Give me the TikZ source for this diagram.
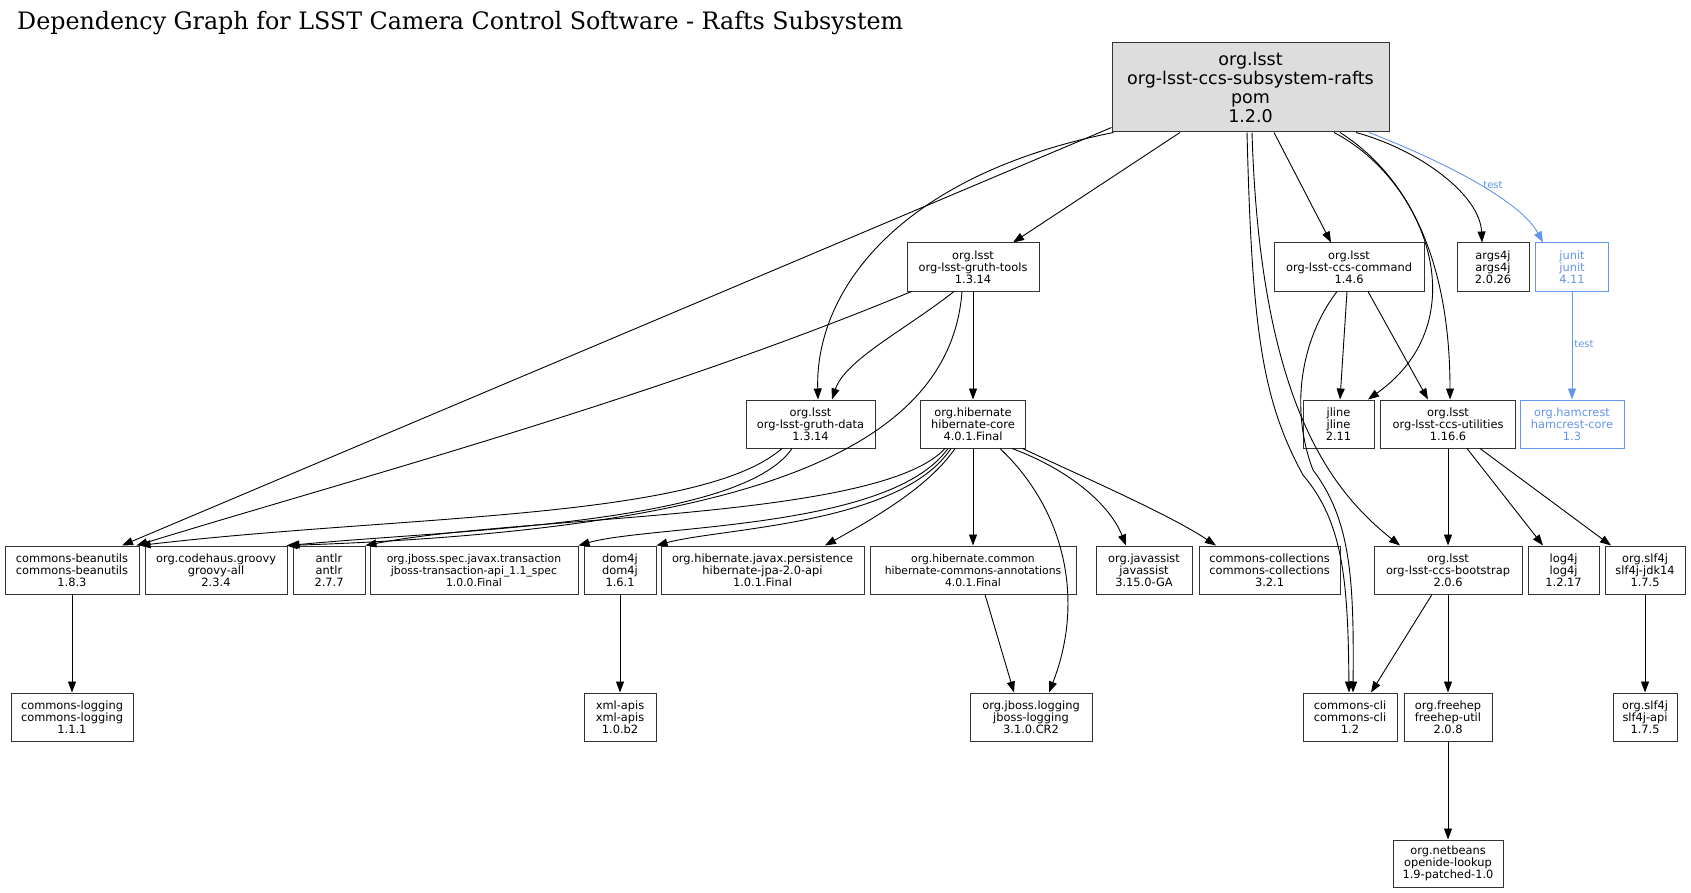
\documentclass[tikz,border=0pt]{standalone}
\usepackage{fontspec}
\setmainfont{DejaVu Sans}
\newfontfamily\titlefont{DejaVu Serif}
\usetikzlibrary{arrows.meta,calc}
\definecolor{jblue}{HTML}{6495ED}
\definecolor{rootgray}{HTML}{DDDDDD}
\definecolor{boxline}{HTML}{333333}
\begin{document}
\begin{tikzpicture}[x=1pt,y=-1pt,
  box/.style={draw=boxline, line width=1pt, inner sep=0pt, align=center,
    font=\fontsize{11.4}{12}\selectfont, minimum height=48pt},
  smallbox/.style={box, font=\fontsize{10.8}{12}\selectfont},
  rootbox/.style={box, fill=rootgray, font=\fontsize{17.5}{19.3}\selectfont, minimum height=89pt},
  testbox/.style={box, draw=jblue, text=jblue},
  dep/.style={-{Triangle[length=11pt,width=8pt]}, line width=0.9pt},
  testdep/.style={dep, draw=jblue},
  testlabel/.style={text=jblue, font=\fontsize{10}{12}\selectfont, inner sep=0pt}]
\useasboundingbox (0,0) rectangle (1691,893);
\fill[white] (0,0) rectangle (1691,893);

\node[anchor=base west, inner sep=0pt] (title) at (17,30)
  {\resizebox{886pt}{\height}{\titlefont\fontsize{24}{28}\selectfont Dependency Graph for LSST Camera Control Software - Rafts Subsystem}};

% root
\node[rootbox, minimum width=277pt] (R) at (1250.5,87.5) {org.lsst\\org-lsst-ccs-subsystem-rafts\\pom\\1.2.0};

% row A
\node[box, minimum width=132pt] (GT) at (973,267) {org.lsst\\org-lsst-gruth-tools\\1.3.14};
\node[box, minimum width=150pt] (CMD) at (1349,267) {org.lsst\\org-lsst-ccs-command\\1.4.6};
\node[box, minimum width=72pt] (ARGS) at (1493,267) {args4j\\args4j\\2.0.26};
\node[testbox, minimum width=73pt] (JUNIT) at (1572,267) {junit\\junit\\4.11};

% row B
\node[box, minimum width=129pt] (GD) at (810.5,424) {org.lsst\\org-lsst-gruth-data\\1.3.14};
\node[box, minimum width=105pt] (HC) at (973,424) {org.hibernate\\hibernate-core\\4.0.1.Final};
\node[box, minimum width=71pt] (JLINE) at (1338.5,424) {jline\\jline\\2.11};
\node[box, minimum width=135pt] (UTIL) at (1448,424) {org.lsst\\org-lsst-ccs-utilities\\1.16.6};
\node[testbox, minimum width=104pt] (HAM) at (1572,424) {org.hamcrest\\hamcrest-core\\1.3};

% row C
\node[box, minimum width=134pt] (BEAN) at (72,570) {commons-beanutils\\commons-beanutils\\1.8.3};
\node[box, minimum width=142pt] (GROOVY) at (216,570) {org.codehaus.groovy\\groovy-all\\2.3.4};
\node[box, minimum width=72pt] (ANTLR) at (329,570) {antlr\\antlr\\2.7.7};
\node[smallbox, minimum width=208pt] (JTA) at (474,570) {org.jboss.spec.javax.transaction\\jboss-transaction-api\_1.1\_spec\\1.0.0.Final};
\node[box, minimum width=72pt] (DOM) at (620,570) {dom4j\\dom4j\\1.6.1};
\node[box, minimum width=203pt] (JPA) at (762.5,570) {org.hibernate.javax.persistence\\hibernate-jpa-2.0-api\\1.0.1.Final};
\node[smallbox, minimum width=206pt] (HCA) at (973,570) {org.hibernate.common\\hibernate-commons-annotations\\4.0.1.Final};
\node[box, minimum width=96pt] (JAV) at (1144,570) {org.javassist\\javassist\\3.15.0-GA};
\node[box, minimum width=141pt] (COLL) at (1269.5,570) {commons-collections\\commons-collections\\3.2.1};
\node[box, minimum width=148pt] (BOOT) at (1448,570) {org.lsst\\org-lsst-ccs-bootstrap\\2.0.6};
\node[box, minimum width=71pt] (LOG) at (1563.5,570) {log4j\\log4j\\1.2.17};
\node[box, minimum width=80pt] (JDK) at (1645,570) {org.slf4j\\slf4j-jdk14\\1.7.5};

% row D
\node[box, minimum width=122pt] (CLOG) at (72,717) {commons-logging\\commons-logging\\1.1.1};
\node[box, minimum width=72pt] (XML) at (620,717) {xml-apis\\xml-apis\\1.0.b2};
\node[box, minimum width=122pt] (JBL) at (1031,717) {org.jboss.logging\\jboss-logging\\3.1.0.CR2};
\node[box, minimum width=94pt] (CLI) at (1350,717) {commons-cli\\commons-cli\\1.2};
\node[box, minimum width=88pt] (FREE) at (1448,717) {org.freehep\\freehep-util\\2.0.8};
\node[box, minimum width=64pt] (SLF) at (1645,717) {org.slf4j\\slf4j-api\\1.7.5};

% row E
\node[box, minimum width=110pt, minimum height=47pt] (NB) at (1448,863.5) {org.netbeans\\openide-lookup\\1.9-patched-1.0};

% ---- edges from root
\draw[dep] ($(R.south west)+(0,-5)$) -- ($(BEAN.north)+(50,0)$);
\draw[dep] ($(R.south west)+(2,0)$) .. controls (900,175) and (815,290) .. ($(GD.north)+(7.5,0)$);
\draw[dep] ($(R.south)+(-70.5,0)$) -- ($(GT.north)+(40,0)$);
\draw[dep] ($(R.south)+(23.5,0)$) -- ($(CMD.north)+(-18,0)$);
\draw[dep] ($(R.south)+(-3.5,0)$) .. controls (1252,330) and (1262,400) .. (1303,475)
   .. controls (1343,522) and (1348,580) .. ($(CLI.north)+(-1,0)$);
\draw[dep] ($(R.south)+(1.5,0)$) .. controls (1260,400) and (1330,490) .. ($(BOOT.north)+(-48,0)$);
\draw[dep] ($(R.south)+(83.5,0)$) .. controls (1425,180) and (1480,320) .. ($(JLINE.north)+(29.5,0)$);
\draw[dep] ($(R.south)+(89.5,0)$) .. controls (1430,190) and (1450,300) .. ($(UTIL.north)+(2,0)$);
\draw[dep] ($(R.south)+(105.5,0)$) .. controls (1420,150) and (1480,195) .. ($(ARGS.north)+(-11,0)$);
\draw[testdep] ($(R.south)+(118.5,0)$) .. controls (1440,160) and (1520,200) .. ($(JUNIT.north)+(-29,0)$);
\node[testlabel] (t1) at (1493,185) {test};

% ---- junit
\draw[testdep] (JUNIT.south) -- (HAM.north);
\node[testlabel] (t2) at (1584,344) {test};

% ---- gruth-tools
\draw[dep] ($(GT.south west)+(5,0)$) .. controls (650,400) and (350,480) .. ($(BEAN.north east)+(-3,0)$);
\draw[dep] ($(GT.south)+(-19,0)$) .. controls (905,330) and (845,360) .. ($(GD.north)+(21.5,0)$);
\draw[dep] ($(GT.south)+(-11,0)$) .. controls (950,450) and (750,530) .. ($(GROOVY.north east)+(-1,0)$);
\draw[dep] (GT.south) -- (HC.north);

% ---- gruth-data
\draw[dep] ($(GD.south)+(-28.5,0)$) .. controls (700,520) and (400,515) .. (BEAN.north east);
\draw[dep] ($(GD.south)+(-18.5,0)$) .. controls (740,525) and (450,530) .. ($(GROOVY.north east)+(1,0)$);

% ---- hibernate-core
\draw[dep] ($(HC.south)+(-28,0)$) .. controls (880,520) and (520,515) .. (ANTLR.north east);
\draw[dep] ($(HC.south)+(-25,0)$) .. controls (890,530) and (650,525) .. (JTA.north east);
\draw[dep] ($(HC.south)+(-22,0)$) .. controls (900,525) and (720,528) .. (DOM.north east);
\draw[dep] ($(HC.south)+(-18,0)$) .. controls (930,485) and (880,515) .. ($(JPA.north)+(62.5,0)$);
\draw[dep] (HC.south) -- (HCA.north);
\draw[dep] ($(HC.south)+(27,0)$) .. controls (1065,510) and (1085,600) .. ($(JBL.north)+(18,0)$);
\draw[dep] ($(HC.south)+(39,0)$) .. controls (1070,470) and (1110,505) .. ($(JAV.north)+(-18,0)$);
\draw[dep] ($(HC.south east)+(-3.5,0)$) .. controls (1090,480) and (1170,515) .. ($(COLL.north)+(-53.5,0)$);
\draw[dep] ($(HCA.south)+(12,0)$) -- ($(JBL.north)+(-17,0)$);

% ---- ccs-command
\draw[dep] ($(CMD.south)+(-12,0)$) .. controls (1300,340) and (1290,410) .. (1313,470)
   .. controls (1351,520) and (1354,580) .. ($(CLI.north)+(3,0)$);
\draw[dep] ($(CMD.south)+(-2,0)$) -- ($(JLINE.north)+(1.5,0)$);
\draw[dep] ($(CMD.south)+(19,0)$) -- ($(UTIL.north)+(-20,0)$);

% ---- ccs-utilities
\draw[dep] (UTIL.south) -- (BOOT.north);
\draw[dep] ($(UTIL.south)+(19,0)$) -- ($(LOG.north)+(-20.5,0)$);
\draw[dep] ($(UTIL.south)+(32,0)$) -- ($(JDK.north)+(-34,0)$);

% ---- bootstrap and others
\draw[dep] ($(BOOT.south)+(-16,0)$) -- ($(CLI.north)+(21,0)$);
\draw[dep] (BOOT.south) -- (FREE.north);
\draw[dep] (FREE.south) -- (NB.north);
\draw[dep] (JDK.south) -- (SLF.north);
\draw[dep] (BEAN.south) -- (CLOG.north);
\draw[dep] (DOM.south) -- (XML.north);
\end{tikzpicture}
\end{document}
